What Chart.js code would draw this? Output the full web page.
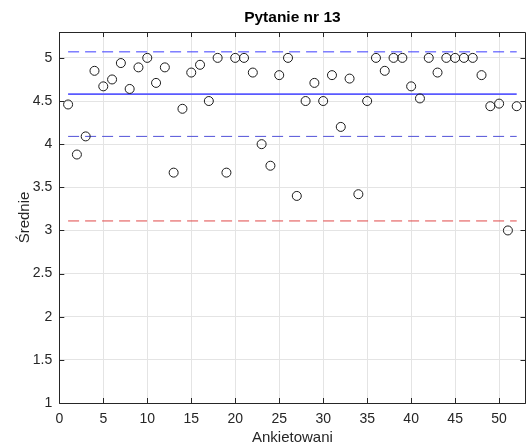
<!DOCTYPE html>
<html>
<head>
<meta charset="utf-8">
<script src="https://cdn.jsdelivr.net/npm/chart.js@4/dist/chart.umd.min.js"></script>
<style>
html,body{margin:0;padding:0;background:#fff;overflow:hidden;}
#wrap{width:528px;height:445px;overflow:hidden;position:relative;}
#box{width:531px;height:445px;position:absolute;left:0;top:0;}
</style>
</head>
<body>
<div id="wrap"><div id="box"><canvas id="c"></canvas></div></div>
<script>
// ---- data ----
const respondents = [1,2,3,4,5,6,7,8,9,10,11,12,13,14,15,16,17,18,19,20,21,22,23,24,25,26,
  27,28,29,30,31,32,33,34,35,36,37,38,39,40,41,42,43,44,45,46,47,48,49,50,51,52];
const averages = [4.46,3.88,4.09,4.85,4.67,4.75,4.94,4.64,4.89,5.00,4.71,4.89,3.67,4.41,4.83,4.92,4.50,5.00,3.67,5.00,
  5.00,4.83,4.00,3.75,4.80,5.00,3.40,4.50,4.71,4.50,4.80,4.20,4.76,3.42,4.50,5.00,4.85,5.00,5.00,4.67,
  4.53,5.00,4.83,5.00,5.00,5.00,5.00,4.80,4.44,4.47,3.00,4.44];
const lineRange = [1, 52];
const meanValue = 4.58;
const upperBand = 5.07;
const lowerBand = 4.09;
const lowerLimit = 3.11;
const xTicks = [0,5,10,15,20,25,30,35,40,45,50];
const yTicks = [1,1.5,2,2.5,3,3.5,4,4.5,5];
const title = 'Pytanie nr 13';
const xTitle = 'Ankietowani';
const yTitle = 'Średnie';

const pts = respondents.map((x,i)=>({x:x,y:averages[i]}));
function hline(v){ return lineRange.map(x=>({x:x,y:v})); }

const FONT = '"Liberation Sans", Arial, sans-serif';

const frame = {
  id:'frame',
  afterDraw(chart){
    const ctx = chart.ctx, a = chart.chartArea;
    const xs = chart.scales.x, ys = chart.scales.y;
    ctx.save();
    ctx.strokeStyle = '#262626';
    ctx.lineWidth = 1;
    ctx.beginPath();
    ctx.rect(Math.round(a.left)+0.5, Math.round(a.top)+0.5, Math.round(a.right-a.left), Math.round(a.bottom-a.top));
    ctx.stroke();
    const tl = 5;
    ctx.beginPath();
    xTicks.forEach(v=>{
      const p = Math.round(xs.getPixelForValue(v))+0.5;
      ctx.moveTo(p, a.bottom); ctx.lineTo(p, a.bottom - tl);
      ctx.moveTo(p, a.top); ctx.lineTo(p, a.top + tl);
    });
    yTicks.forEach(v=>{
      const p = Math.round(ys.getPixelForValue(v))+0.5;
      ctx.moveTo(a.left, p); ctx.lineTo(a.left + tl, p);
      ctx.moveTo(a.right, p); ctx.lineTo(a.right - tl, p);
    });
    ctx.stroke();
    // title centred over the axes box
    ctx.fillStyle = '#000';
    ctx.font = 'bold 15.5px ' + FONT;
    ctx.textAlign = 'center';
    ctx.textBaseline = 'middle';
    ctx.fillText(title, (a.left + a.right)/2, 18);
    ctx.restore();
  }
};

new Chart(document.getElementById('c'), {
  type:'scatter',
  data:{
    datasets:[
      {data:hline(upperBand), showLine:true, borderColor:'#3c3cff', borderWidth:1, borderDash:[11,6], pointRadius:0, order:1},
      {data:hline(meanValue), showLine:true, borderColor:'#5a5aff', borderWidth:1.6, pointRadius:0, order:1},
      {data:hline(lowerBand), showLine:true, borderColor:'#5252d8', borderWidth:1, borderDash:[11,6], pointRadius:0, order:1},
      {data:hline(lowerLimit), showLine:true, borderColor:'#e04848', borderWidth:1, borderDash:[11,6], pointRadius:0, order:1},
      {data:pts, showLine:false, pointRadius:4.5, pointBorderColor:'#1a1a1a', pointBackgroundColor:'rgba(0,0,0,0)', pointBorderWidth:1, order:0}
    ]
  },
  options:{
    responsive:true, maintainAspectRatio:false, animation:false,
    layout:{padding:{left:0,right:2,top:32,bottom:0}},
    plugins:{
      legend:{display:false}, tooltip:{enabled:false}, title:{display:false}
    },
    scales:{
      x:{type:'linear', min:0, max:53, afterBuildTicks(s){ s.ticks = xTicks.map(v=>({value:v})); },
        afterFit(s){ s.height = 42; },
        grid:{color:'#e4e4e4', drawTicks:false}, border:{display:false},
        ticks:{color:'#262626', font:{family:FONT,size:14}, padding:8, maxRotation:0, autoSkip:false, callback:v=>String(v)},
        title:{display:true, text:xTitle, color:'#262626', font:{family:FONT,size:15, lineHeight:1}, padding:{top:0,bottom:0}}
      },
      y:{type:'linear', min:1, max:5.3, afterBuildTicks(s){ s.ticks = yTicks.map(v=>({value:v})); },
        afterFit(s){ s.width = 59.3; },
        grid:{color:'#e4e4e4', drawTicks:false}, border:{display:false},
        ticks:{color:'#262626', font:{family:FONT,size:14}, padding:7, autoSkip:false, callback:v=>String(v)},
        title:{display:true, text:yTitle, color:'#262626', font:{family:FONT,size:15, lineHeight:1.2}, padding:{top:16,bottom:0}}
      }
    }
  },
  plugins:[frame]
});
</script>
</body>
</html>
